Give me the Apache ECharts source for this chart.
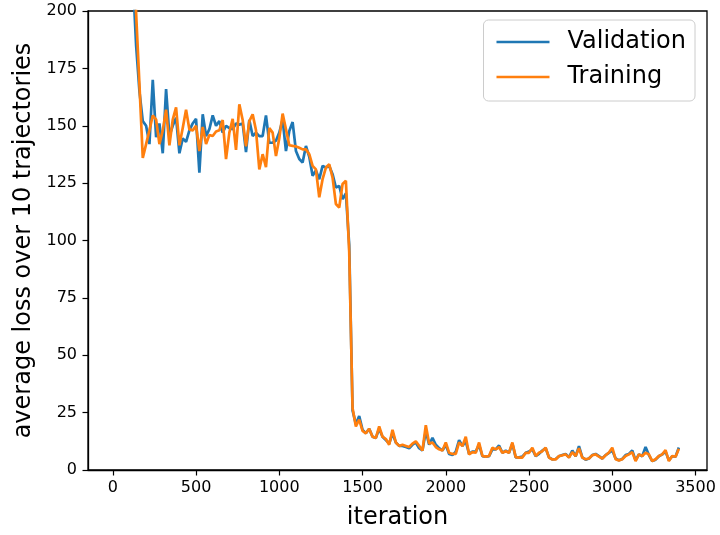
<!DOCTYPE html>
<html>
<head>
<meta charset="utf-8">
<script src="https://cdn.jsdelivr.net/npm/echarts@6/dist/echarts.min.js"></script>
<style>
  html, body { margin: 0; padding: 0; background: #fff; }
  #chart { width: 720px; height: 535px; }
</style>
</head>
<body>
<div id="chart"></div>
<script>
// iteration of each logged point
const iterations = [
  20, 40, 60, 80, 100, 120, 140, 160, 180, 200,
  220, 240, 260, 280, 300, 320, 340, 360, 380, 400,
  420, 440, 460, 480, 500, 520, 540, 560, 580, 600,
  620, 640, 660, 680, 700, 720, 740, 760, 780, 800,
  820, 840, 860, 880, 900, 920, 940, 960, 980, 1000,
  1020, 1040, 1060, 1080, 1100, 1120, 1140, 1160, 1180, 1200,
  1220, 1240, 1260, 1280, 1300, 1320, 1340, 1360, 1380, 1400,
  1420, 1440, 1460, 1480, 1500, 1520, 1540, 1560, 1580, 1600,
  1620, 1640, 1660, 1680, 1700, 1720, 1740, 1760, 1780, 1800,
  1820, 1840, 1860, 1880, 1900, 1920, 1940, 1960, 1980, 2000,
  2020, 2040, 2060, 2080, 2100, 2120, 2140, 2160, 2180, 2200,
  2220, 2240, 2260, 2280, 2300, 2320, 2340, 2360, 2380, 2400,
  2420, 2440, 2460, 2480, 2500, 2520, 2540, 2560, 2580, 2600,
  2620, 2640, 2660, 2680, 2700, 2720, 2740, 2760, 2780, 2800,
  2820, 2840, 2860, 2880, 2900, 2920, 2940, 2960, 2980, 3000,
  3020, 3040, 3060, 3080, 3100, 3120, 3140, 3160, 3180, 3200,
  3220, 3240, 3260, 3280, 3300, 3320, 3340, 3360, 3380, 3400
];

const validationLoss = [
  620, 480, 390, 320, 265, 215, 185, 165, 152, 150,
  142, 170, 145, 151, 138, 166, 145.5, 150, 153.5, 138,
  144.5, 143, 148, 151, 153, 129.6, 155, 145.5, 148.5, 154.5,
  150, 152, 147, 150, 149, 148.5, 151, 150.5, 151, 138.5,
  152.5, 145.5, 147, 145.5, 145.5, 154.5, 142.6, 142.6, 143.5, 147,
  152.7, 139, 147.7, 151.6, 139, 135.5, 134, 141.2, 136.5, 128.2,
  130.5, 126.7, 132.5, 131.8, 132.5, 128.9, 123.1, 123.8, 118, 120.5,
  98, 26, 20, 23.5, 17.5, 16, 18, 14.5, 14, 18,
  14.5, 13, 11.5, 16, 12, 10.5, 10.5, 10, 9.5, 11,
  12, 9.5, 8.5, 17, 11, 14, 11, 9.5, 8.5, 11,
  7, 6.5, 8, 13, 10.5, 12.5, 7, 8, 8, 11,
  6, 5.8, 6, 9, 9, 10.7, 7.5, 8.5, 7.5, 11.5,
  5.5, 5.5, 5.8, 7.5, 8, 9, 6, 7, 8.5, 9.5,
  5.5, 4.6, 4.8, 6, 6.5, 7, 5.5, 8.5, 6, 10.4,
  5.5, 4.5, 5, 6.5, 7, 6, 5, 6.5, 7.5, 8.5,
  5, 4.2, 4.8, 6.5, 7, 8.5, 4.2, 6.8, 6, 10,
  6.5, 3.9, 4.5, 6, 6.8, 8, 4.2, 6, 5.8, 9.8
];

const trainingLoss = [
  700, 520, 420, 350, 300, 250, 199, 168, 136, 142,
  148, 154.5, 152.7, 142, 148, 157, 141.5, 152.7, 158, 141.5,
  149, 157, 148.4, 148, 150, 139, 149.5, 142, 146, 145.5,
  147.5, 148, 152.5, 135.5, 147, 153, 139.5, 159.3, 152.5, 141,
  152, 155, 148, 131, 137.6, 132, 149, 147, 136.8, 144.5,
  155.3, 148.5, 141.5, 141.2, 141, 140.4, 139.7, 139.7, 137.6, 132.5,
  131, 118.8, 126.7, 131.8, 133.2, 127.4, 115.9, 114.4, 124.6, 126,
  95, 27, 19, 22, 17, 16, 18, 14.5, 14, 19,
  14.5, 13.5, 11, 17.5, 12, 10.5, 11, 10.5, 10, 11.5,
  12.5, 10.5, 8.5, 19.5, 11.5, 12, 10, 9, 8.5, 12,
  7.5, 7, 7, 12, 10.4, 14.5, 6.8, 7.8, 7.5, 12,
  6.1, 5.8, 6.1, 9.7, 9, 10, 7.5, 8.2, 7.5, 12,
  5.6, 5.4, 5.4, 7.5, 7.5, 9.7, 6.1, 7.5, 8.2, 9.7,
  5.4, 4.6, 4.6, 6.1, 6.4, 6.8, 5.4, 7.8, 6.1, 9.5,
  5.4, 4.7, 5, 6.4, 6.8, 5.8, 5, 6.4, 7.6, 9.7,
  4.7, 4.2, 4.7, 6.1, 6.8, 7.8, 3.9, 6.8, 6.1, 7.5,
  6.8, 3.9, 4.7, 6.1, 6.8, 8.7, 3.9, 6.1, 5.8, 9.3
];

const xTicks = [0, 500, 1000, 1500, 2000, 2500, 3000, 3500];

const font = 'DejaVu Sans';

let chart = echarts.init(document.getElementById('chart'));

let option = {
  animation: false,
  grid: {
    left: 88,
    right: 13,
    top: 11,
    bottom: 63,
    show: true,
    borderColor: '#000',
    borderWidth: 1.3
  },
  legend: {
    orient: 'vertical',
    right: 25,
    top: 20,
    icon: 'rect',
    itemWidth: 53,
    itemHeight: 2.6,
    itemGap: 7,
    padding: [8, 9, 10, 13],
    borderColor: '#cccccc',
    borderWidth: 1,
    borderRadius: 5,
    backgroundColor: 'rgba(255,255,255,0.8)',
    textStyle: {
      fontFamily: font,
      fontSize: 24,
      color: '#000',
      lineHeight: 28,
      padding: [0, 0, 0, 13]
    },
    data: ['Validation', 'Training']
  },
  xAxis: {
    type: 'value',
    min: -149,
    max: 3569,
    name: 'iteration',
    nameLocation: 'middle',
    nameGap: 36,
    nameTextStyle: { fontFamily: font, fontSize: 24, color: '#000' },
    splitLine: { show: false },
    axisLine: { onZero: false, lineStyle: { color: '#000', width: 1.3 } },
    axisTick: {
      show: true,
      length: 5.5,
      lineStyle: { color: '#000', width: 1.2 },
      customValues: xTicks
    },
    axisLabel: {
      fontFamily: font,
      fontSize: 16,
      color: '#000',
      margin: 10,
      customValues: xTicks,
      formatter: function (v) { return String(v); }
    }
  },
  yAxis: {
    type: 'value',
    min: 0,
    max: 200,
    interval: 25,
    name: 'average loss over 10 trajectories',
    nameLocation: 'middle',
    nameGap: 52,
    nameTextStyle: { fontFamily: font, fontSize: 24, color: '#000' },
    splitLine: { show: false },
    axisLine: { show: true, onZero: false, lineStyle: { color: '#000', width: 1.3 } },
    axisTick: { show: true, length: 5.5, lineStyle: { color: '#000', width: 1.2 } },
    axisLabel: { fontFamily: font, fontSize: 16, color: '#000', margin: 11 }
  },
  series: [
    {
      name: 'Validation',
      type: 'line',
      symbol: 'none',
      clip: true,
      color: '#1f77b4',
      lineStyle: { width: 2.7, color: '#1f77b4' },
      data: iterations.map(function (it, i) { return [it, validationLoss[i]]; })
    },
    {
      name: 'Training',
      type: 'line',
      symbol: 'none',
      clip: true,
      color: '#ff7f0e',
      lineStyle: { width: 2.7, color: '#ff7f0e' },
      data: iterations.map(function (it, i) { return [it, trainingLoss[i]]; })
    }
  ]
};

chart.setOption(option);
</script>
</body>
</html>
